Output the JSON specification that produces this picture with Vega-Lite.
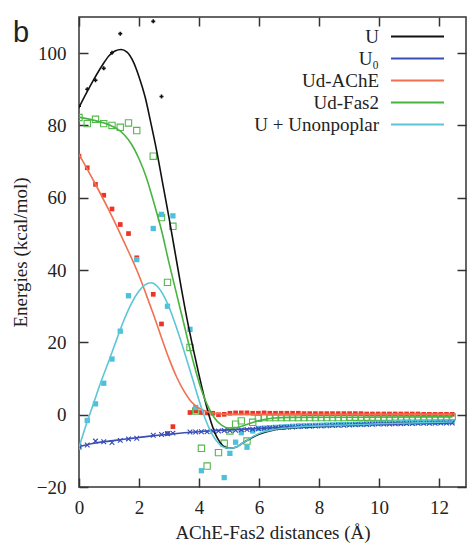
{
  "$schema": "https://vega.github.io/schema/vega-lite/v6.json",
  "width": 387,
  "height": 470,
  "autosize": {"type": "none"},
  "padding": {"left": 79, "top": 17, "right": 1, "bottom": 57},
  "background": "white",
  "title": {"text": "b", "anchor": "start", "frame": "group", "orient": "top", "font": "Liberation Sans", "fontSize": 29, "fontWeight": "normal", "color": "#222222", "dx": -66, "offset": -55, "baseline": "alphabetic"},
  "config": {
    "view": {"stroke": "#333333", "strokeWidth": 1.5},
    "axis": {"domain": false, "grid": false, "tickColor": "#333333", "tickWidth": 1.5, "tickSize": -9, "labelFont": "Liberation Serif", "labelFontSize": 19, "labelColor": "#222222", "labelFlush": false, "labelOverlap": false, "titleFont": "Liberation Serif", "titleFontSize": 19, "titleFontWeight": "normal", "titleColor": "#222222"}
  },
  "datasets": {
    "curves": [
      {"s": "U", "x": 0, "y": 85}, {"s": "U", "x": 0.25, "y": 89}, {"s": "U", "x": 0.5, "y": 92.8}, {"s": "U", "x": 0.75, "y": 96.3}, {"s": "U", "x": 1.0, "y": 99.3}, {"s": "U", "x": 1.2, "y": 100.6}, {"s": "U", "x": 1.4, "y": 101}, {"s": "U", "x": 1.6, "y": 100.3}, {"s": "U", "x": 1.8, "y": 97.8}, {"s": "U", "x": 2.0, "y": 93.5}, {"s": "U", "x": 2.2, "y": 88}, {"s": "U", "x": 2.4, "y": 80.5}, {"s": "U", "x": 2.6, "y": 72.5}, {"s": "U", "x": 2.8, "y": 63.5}, {"s": "U", "x": 3.0, "y": 54.5}, {"s": "U", "x": 3.2, "y": 45}, {"s": "U", "x": 3.4, "y": 35.5}, {"s": "U", "x": 3.6, "y": 26.5}, {"s": "U", "x": 3.8, "y": 18.5}, {"s": "U", "x": 4.0, "y": 11}, {"s": "U", "x": 4.2, "y": 4}, {"s": "U", "x": 4.4, "y": -2}, {"s": "U", "x": 4.6, "y": -6.3}, {"s": "U", "x": 4.8, "y": -8.6}, {"s": "U", "x": 5.0, "y": -9.3}, {"s": "U", "x": 5.2, "y": -9.1}, {"s": "U", "x": 5.5, "y": -7.6}, {"s": "U", "x": 6.0, "y": -5.4}, {"s": "U", "x": 6.5, "y": -4.2}, {"s": "U", "x": 7.0, "y": -3.7}, {"s": "U", "x": 8.0, "y": -3.2}, {"s": "U", "x": 9.0, "y": -2.8}, {"s": "U", "x": 10.0, "y": -2.5}, {"s": "U", "x": 11.0, "y": -2.3}, {"s": "U", "x": 12.45, "y": -2.1},
      {"s": "U₀", "x": 0, "y": -8.8}, {"s": "U₀", "x": 0.5, "y": -7.9}, {"s": "U₀", "x": 1.0, "y": -7.3}, {"s": "U₀", "x": 1.5, "y": -6.8}, {"s": "U₀", "x": 2.0, "y": -6.3}, {"s": "U₀", "x": 2.5, "y": -5.8}, {"s": "U₀", "x": 3.0, "y": -5.4}, {"s": "U₀", "x": 3.5, "y": -5.0}, {"s": "U₀", "x": 4.0, "y": -4.7}, {"s": "U₀", "x": 4.5, "y": -4.4}, {"s": "U₀", "x": 5.0, "y": -4.2}, {"s": "U₀", "x": 5.5, "y": -4.0}, {"s": "U₀", "x": 6.0, "y": -3.8}, {"s": "U₀", "x": 7.0, "y": -3.4}, {"s": "U₀", "x": 8.0, "y": -3.1}, {"s": "U₀", "x": 9.0, "y": -2.85}, {"s": "U₀", "x": 10.0, "y": -2.6}, {"s": "U₀", "x": 11.0, "y": -2.45}, {"s": "U₀", "x": 12.45, "y": -2.3},
      {"s": "Ud-AChE", "x": 0, "y": 72}, {"s": "Ud-AChE", "x": 0.5, "y": 64.5}, {"s": "Ud-AChE", "x": 1.0, "y": 56.5}, {"s": "Ud-AChE", "x": 1.5, "y": 47.8}, {"s": "Ud-AChE", "x": 2.0, "y": 38.5}, {"s": "Ud-AChE", "x": 2.25, "y": 33}, {"s": "Ud-AChE", "x": 2.5, "y": 27.3}, {"s": "Ud-AChE", "x": 2.75, "y": 21.3}, {"s": "Ud-AChE", "x": 3.0, "y": 15.5}, {"s": "Ud-AChE", "x": 3.25, "y": 10.5}, {"s": "Ud-AChE", "x": 3.5, "y": 6.5}, {"s": "Ud-AChE", "x": 3.75, "y": 3.5}, {"s": "Ud-AChE", "x": 4.0, "y": 1.8}, {"s": "Ud-AChE", "x": 4.25, "y": 0.9}, {"s": "Ud-AChE", "x": 4.5, "y": 0.4}, {"s": "Ud-AChE", "x": 5.0, "y": 0.1}, {"s": "Ud-AChE", "x": 12.45, "y": 0},
      {"s": "Ud-Fas2", "x": 0, "y": 82.3}, {"s": "Ud-Fas2", "x": 0.5, "y": 81.4}, {"s": "Ud-Fas2", "x": 1.0, "y": 80.2}, {"s": "Ud-Fas2", "x": 1.25, "y": 79.2}, {"s": "Ud-Fas2", "x": 1.5, "y": 77.5}, {"s": "Ud-Fas2", "x": 1.75, "y": 74.8}, {"s": "Ud-Fas2", "x": 2.0, "y": 70.8}, {"s": "Ud-Fas2", "x": 2.25, "y": 65.5}, {"s": "Ud-Fas2", "x": 2.5, "y": 58.5}, {"s": "Ud-Fas2", "x": 2.75, "y": 51}, {"s": "Ud-Fas2", "x": 3.0, "y": 42}, {"s": "Ud-Fas2", "x": 3.25, "y": 33.5}, {"s": "Ud-Fas2", "x": 3.5, "y": 25}, {"s": "Ud-Fas2", "x": 3.75, "y": 16.5}, {"s": "Ud-Fas2", "x": 4.0, "y": 9}, {"s": "Ud-Fas2", "x": 4.25, "y": 3.2}, {"s": "Ud-Fas2", "x": 4.5, "y": -0.7}, {"s": "Ud-Fas2", "x": 4.75, "y": -2.9}, {"s": "Ud-Fas2", "x": 5.0, "y": -3.7}, {"s": "Ud-Fas2", "x": 5.25, "y": -3.6}, {"s": "Ud-Fas2", "x": 5.5, "y": -3.0}, {"s": "Ud-Fas2", "x": 6.0, "y": -1.6}, {"s": "Ud-Fas2", "x": 6.5, "y": -0.9}, {"s": "Ud-Fas2", "x": 7.0, "y": -0.75}, {"s": "Ud-Fas2", "x": 9.0, "y": -0.7}, {"s": "Ud-Fas2", "x": 12.45, "y": -0.6},
      {"s": "U + Unonpoplar", "x": 0, "y": -9}, {"s": "U + Unonpoplar", "x": 0.25, "y": -2.5}, {"s": "U + Unonpoplar", "x": 0.5, "y": 3.5}, {"s": "U + Unonpoplar", "x": 0.75, "y": 9.5}, {"s": "U + Unonpoplar", "x": 1.0, "y": 15}, {"s": "U + Unonpoplar", "x": 1.25, "y": 20.7}, {"s": "U + Unonpoplar", "x": 1.5, "y": 26.2}, {"s": "U + Unonpoplar", "x": 1.75, "y": 30.8}, {"s": "U + Unonpoplar", "x": 2.0, "y": 34.2}, {"s": "U + Unonpoplar", "x": 2.2, "y": 35.9}, {"s": "U + Unonpoplar", "x": 2.4, "y": 36.5}, {"s": "U + Unonpoplar", "x": 2.6, "y": 35.6}, {"s": "U + Unonpoplar", "x": 2.8, "y": 33.3}, {"s": "U + Unonpoplar", "x": 3.0, "y": 29.8}, {"s": "U + Unonpoplar", "x": 3.2, "y": 25.3}, {"s": "U + Unonpoplar", "x": 3.4, "y": 20.3}, {"s": "U + Unonpoplar", "x": 3.6, "y": 15}, {"s": "U + Unonpoplar", "x": 3.8, "y": 9.5}, {"s": "U + Unonpoplar", "x": 4.0, "y": 4}, {"s": "U + Unonpoplar", "x": 4.2, "y": -1}, {"s": "U + Unonpoplar", "x": 4.4, "y": -4.8}, {"s": "U + Unonpoplar", "x": 4.6, "y": -7.4}, {"s": "U + Unonpoplar", "x": 4.8, "y": -8.9}, {"s": "U + Unonpoplar", "x": 5.0, "y": -9.3}, {"s": "U + Unonpoplar", "x": 5.2, "y": -9.1}, {"s": "U + Unonpoplar", "x": 5.5, "y": -7.6}, {"s": "U + Unonpoplar", "x": 6.0, "y": -5.2}, {"s": "U + Unonpoplar", "x": 6.5, "y": -4.1}, {"s": "U + Unonpoplar", "x": 7.0, "y": -3.6}, {"s": "U + Unonpoplar", "x": 8.0, "y": -3.1}, {"s": "U + Unonpoplar", "x": 9.0, "y": -2.8}, {"s": "U + Unonpoplar", "x": 10.0, "y": -2.5}, {"s": "U + Unonpoplar", "x": 11.0, "y": -2.3}, {"s": "U + Unonpoplar", "x": 12.45, "y": -2.0}
    ],
    "pts": [
      {"s": "U", "x": 0, "y": 85.3}, {"s": "U", "x": 0.275, "y": 90}, {"s": "U", "x": 0.55, "y": 92.5}, {"s": "U", "x": 0.825, "y": 95.8}, {"s": "U", "x": 1.1, "y": 100.1}, {"s": "U", "x": 1.375, "y": 105.4}, {"s": "U", "x": 2.475, "y": 108.8}, {"s": "U", "x": 2.75, "y": 88.0},
      {"s": "U0", "x": 0, "y": -8.7}, {"s": "U0", "x": 0.275, "y": -8.4}, {"s": "U0", "x": 0.55, "y": -7.3}, {"s": "U0", "x": 0.825, "y": -7.5}, {"s": "U0", "x": 1.1, "y": -7.7}, {"s": "U0", "x": 1.375, "y": -7.1}, {"s": "U0", "x": 1.65, "y": -6.7}, {"s": "U0", "x": 1.925, "y": -6.5}, {"s": "U0", "x": 2.475, "y": -5.7}, {"s": "U0", "x": 2.75, "y": -5.5}, {"s": "U0", "x": 2.95, "y": -5.3}, {"s": "U0", "x": 3.13, "y": -5.1},
      {"s": "U0", "x": 3.7, "y": -4.8}, {"s": "U0", "x": 3.89, "y": -4.8}, {"s": "U0", "x": 4.08, "y": -4.7}, {"s": "U0", "x": 4.27, "y": -4.7}, {"s": "U0", "x": 4.46, "y": -4.6}, {"s": "U0", "x": 4.65, "y": -4.5}, {"s": "U0", "x": 4.84, "y": -4.4}, {"s": "U0", "x": 5.03, "y": -4.4}, {"s": "U0", "x": 5.22, "y": -4.3}, {"s": "U0", "x": 5.41, "y": -4.2}, {"s": "U0", "x": 5.6, "y": -4.1}, {"s": "U0", "x": 5.79, "y": -4.0}, {"s": "U0", "x": 5.98, "y": -3.9}, {"s": "U0", "x": 6.17, "y": -3.8}, {"s": "U0", "x": 6.36, "y": -3.7}, {"s": "U0", "x": 6.55, "y": -3.6}, {"s": "U0", "x": 6.74, "y": -3.5}, {"s": "U0", "x": 6.93, "y": -3.45}, {"s": "U0", "x": 7.12, "y": -3.4}, {"s": "U0", "x": 7.31, "y": -3.3}, {"s": "U0", "x": 7.5, "y": -3.25}, {"s": "U0", "x": 7.69, "y": -3.2}, {"s": "U0", "x": 7.88, "y": -3.15}, {"s": "U0", "x": 8.07, "y": -3.1}, {"s": "U0", "x": 8.26, "y": -3.05}, {"s": "U0", "x": 8.45, "y": -3.0}, {"s": "U0", "x": 8.64, "y": -2.95}, {"s": "U0", "x": 8.83, "y": -2.9}, {"s": "U0", "x": 9.02, "y": -2.85}, {"s": "U0", "x": 9.21, "y": -2.8}, {"s": "U0", "x": 9.4, "y": -2.75}, {"s": "U0", "x": 9.59, "y": -2.7}, {"s": "U0", "x": 9.78, "y": -2.65}, {"s": "U0", "x": 9.97, "y": -2.6}, {"s": "U0", "x": 10.16, "y": -2.6}, {"s": "U0", "x": 10.35, "y": -2.55}, {"s": "U0", "x": 10.54, "y": -2.5}, {"s": "U0", "x": 10.73, "y": -2.5}, {"s": "U0", "x": 10.92, "y": -2.45}, {"s": "U0", "x": 11.11, "y": -2.45}, {"s": "U0", "x": 11.3, "y": -2.4}, {"s": "U0", "x": 11.49, "y": -2.4}, {"s": "U0", "x": 11.68, "y": -2.35}, {"s": "U0", "x": 11.87, "y": -2.35}, {"s": "U0", "x": 12.06, "y": -2.3}, {"s": "U0", "x": 12.25, "y": -2.3}, {"s": "U0", "x": 12.44, "y": -2.3},
      {"s": "R", "x": 0, "y": 71.5}, {"s": "R", "x": 0.275, "y": 68.3}, {"s": "R", "x": 0.55, "y": 63.7}, {"s": "R", "x": 0.825, "y": 60.7}, {"s": "R", "x": 1.1, "y": 56.9}, {"s": "R", "x": 1.375, "y": 52.6}, {"s": "R", "x": 1.65, "y": 50.1}, {"s": "R", "x": 1.925, "y": 43.4}, {"s": "R", "x": 2.475, "y": 33.3}, {"s": "R", "x": 2.75, "y": 25.1}, {"s": "R", "x": 2.95, "y": -5.2}, {"s": "R", "x": 3.13, "y": -3.3},
      {"s": "R", "x": 3.7, "y": 0.6}, {"s": "R", "x": 3.89, "y": 1.0}, {"s": "R", "x": 4.08, "y": 0.6}, {"s": "R", "x": 4.27, "y": 0.5}, {"s": "R", "x": 4.46, "y": 0.4}, {"s": "R", "x": 4.65, "y": 0.0}, {"s": "R", "x": 4.84, "y": 0.1}, {"s": "R", "x": 5.03, "y": 0.4}, {"s": "R", "x": 5.22, "y": 0.5}, {"s": "R", "x": 5.41, "y": 0.5}, {"s": "R", "x": 5.6, "y": 0.5}, {"s": "R", "x": 5.79, "y": 0.4}, {"s": "R", "x": 5.98, "y": 0.4}, {"s": "R", "x": 6.17, "y": 0.5}, {"s": "R", "x": 6.36, "y": 0.4}, {"s": "R", "x": 6.55, "y": 0.4}, {"s": "R", "x": 6.74, "y": 0.4}, {"s": "R", "x": 6.93, "y": 0.4}, {"s": "R", "x": 7.12, "y": 0.4}, {"s": "R", "x": 7.31, "y": 0.4}, {"s": "R", "x": 7.5, "y": 0.3}, {"s": "R", "x": 7.69, "y": 0.3}, {"s": "R", "x": 7.88, "y": 0.3}, {"s": "R", "x": 8.07, "y": 0.3}, {"s": "R", "x": 8.26, "y": 0.3}, {"s": "R", "x": 8.45, "y": 0.3}, {"s": "R", "x": 8.64, "y": 0.3}, {"s": "R", "x": 8.83, "y": 0.3}, {"s": "R", "x": 9.02, "y": 0.3}, {"s": "R", "x": 9.21, "y": 0.3}, {"s": "R", "x": 9.4, "y": 0.3}, {"s": "R", "x": 9.59, "y": 0.2}, {"s": "R", "x": 9.78, "y": 0.2}, {"s": "R", "x": 9.97, "y": 0.2}, {"s": "R", "x": 10.16, "y": 0.2}, {"s": "R", "x": 10.35, "y": 0.2}, {"s": "R", "x": 10.54, "y": 0.2}, {"s": "R", "x": 10.73, "y": 0.2}, {"s": "R", "x": 10.92, "y": 0.2}, {"s": "R", "x": 11.11, "y": 0.2}, {"s": "R", "x": 11.3, "y": 0.2}, {"s": "R", "x": 11.49, "y": 0.1}, {"s": "R", "x": 11.68, "y": 0.1}, {"s": "R", "x": 11.87, "y": 0.1}, {"s": "R", "x": 12.06, "y": 0.1}, {"s": "R", "x": 12.25, "y": 0.1}, {"s": "R", "x": 12.44, "y": 0.1},
      {"s": "G", "x": 0, "y": 82.2}, {"s": "G", "x": 0.275, "y": 80.5}, {"s": "G", "x": 0.55, "y": 81.7}, {"s": "G", "x": 0.825, "y": 80.5}, {"s": "G", "x": 1.1, "y": 80.0}, {"s": "G", "x": 1.375, "y": 79.5}, {"s": "G", "x": 1.65, "y": 80.7}, {"s": "G", "x": 1.925, "y": 78.6}, {"s": "G", "x": 2.475, "y": 71.5}, {"s": "G", "x": 2.75, "y": 54.5}, {"s": "G", "x": 2.95, "y": 36.6}, {"s": "G", "x": 3.13, "y": 52.1},
      {"s": "G", "x": 3.7, "y": 18.6}, {"s": "G", "x": 3.89, "y": 1.0}, {"s": "G", "x": 4.08, "y": -9.3}, {"s": "G", "x": 4.27, "y": -14.2}, {"s": "G", "x": 4.65, "y": -10.5}, {"s": "G", "x": 4.84, "y": -7.9}, {"s": "G", "x": 5.03, "y": -4.5}, {"s": "G", "x": 5.22, "y": -2.6}, {"s": "G", "x": 5.41, "y": -1.7}, {"s": "G", "x": 5.6, "y": -7.3}, {"s": "G", "x": 5.79, "y": -2.1}, {"s": "G", "x": 5.98, "y": -1.0}, {"s": "G", "x": 6.17, "y": -0.8}, {"s": "G", "x": 6.36, "y": -0.8}, {"s": "G", "x": 6.55, "y": -0.8}, {"s": "G", "x": 6.74, "y": -0.8}, {"s": "G", "x": 6.93, "y": -0.8}, {"s": "G", "x": 7.12, "y": -0.8}, {"s": "G", "x": 7.31, "y": -0.8}, {"s": "G", "x": 7.5, "y": -0.8}, {"s": "G", "x": 7.69, "y": -0.8}, {"s": "G", "x": 7.88, "y": -0.8}, {"s": "G", "x": 8.07, "y": -0.8}, {"s": "G", "x": 8.26, "y": -0.8}, {"s": "G", "x": 8.45, "y": -0.8}, {"s": "G", "x": 8.64, "y": -0.8}, {"s": "G", "x": 8.83, "y": -0.8}, {"s": "G", "x": 9.02, "y": -0.7}, {"s": "G", "x": 9.21, "y": -0.7}, {"s": "G", "x": 9.4, "y": -0.7}, {"s": "G", "x": 9.59, "y": -0.7}, {"s": "G", "x": 9.78, "y": -0.7}, {"s": "G", "x": 9.97, "y": -0.7}, {"s": "G", "x": 10.16, "y": -0.7}, {"s": "G", "x": 10.35, "y": -0.7}, {"s": "G", "x": 10.54, "y": -0.6}, {"s": "G", "x": 10.73, "y": -0.6}, {"s": "G", "x": 10.92, "y": -0.6}, {"s": "G", "x": 11.11, "y": -0.6}, {"s": "G", "x": 11.3, "y": -0.6}, {"s": "G", "x": 11.49, "y": -0.6}, {"s": "G", "x": 11.68, "y": -0.6}, {"s": "G", "x": 11.87, "y": -0.6}, {"s": "G", "x": 12.06, "y": -0.6}, {"s": "G", "x": 12.25, "y": -0.6}, {"s": "G", "x": 12.44, "y": -0.6},
      {"s": "C", "x": 0, "y": -9.0}, {"s": "C", "x": 0.275, "y": -1.6}, {"s": "C", "x": 0.55, "y": 3.0}, {"s": "C", "x": 0.825, "y": 8.7}, {"s": "C", "x": 1.1, "y": 15.4}, {"s": "C", "x": 1.375, "y": 23.1}, {"s": "C", "x": 1.65, "y": 32.9}, {"s": "C", "x": 1.925, "y": 42.9}, {"s": "C", "x": 2.475, "y": 51.5}, {"s": "C", "x": 2.75, "y": 55.4}, {"s": "C", "x": 2.95, "y": 30.0}, {"s": "C", "x": 3.13, "y": 55.0},
      {"s": "C", "x": 3.7, "y": 23.6}, {"s": "C", "x": 3.89, "y": 2.0}, {"s": "C", "x": 4.08, "y": -15.5}, {"s": "C", "x": 4.84, "y": -17.4}, {"s": "C", "x": 5.03, "y": -10.7}, {"s": "C", "x": 5.22, "y": -7.6}, {"s": "C", "x": 5.41, "y": -5.0}, {"s": "C", "x": 5.6, "y": -9.0}, {"s": "C", "x": 5.79, "y": -4.5}, {"s": "C", "x": 5.98, "y": -3.8}, {"s": "C", "x": 6.17, "y": -3.7}, {"s": "C", "x": 6.36, "y": -3.6}, {"s": "C", "x": 6.55, "y": -3.5}, {"s": "C", "x": 6.74, "y": -3.4}, {"s": "C", "x": 6.93, "y": -3.3}, {"s": "C", "x": 7.12, "y": -3.2}, {"s": "C", "x": 7.31, "y": -3.1}, {"s": "C", "x": 7.5, "y": -3.05}, {"s": "C", "x": 7.69, "y": -3.0}, {"s": "C", "x": 7.88, "y": -2.95}, {"s": "C", "x": 8.07, "y": -2.9}, {"s": "C", "x": 8.26, "y": -2.85}, {"s": "C", "x": 8.45, "y": -2.8}, {"s": "C", "x": 8.64, "y": -2.75}, {"s": "C", "x": 8.83, "y": -2.7}, {"s": "C", "x": 9.02, "y": -2.65}, {"s": "C", "x": 9.21, "y": -2.6}, {"s": "C", "x": 9.4, "y": -2.55}, {"s": "C", "x": 9.59, "y": -2.5}, {"s": "C", "x": 9.78, "y": -2.45}, {"s": "C", "x": 9.97, "y": -2.4}, {"s": "C", "x": 10.16, "y": -2.35}, {"s": "C", "x": 10.35, "y": -2.3}, {"s": "C", "x": 10.54, "y": -2.3}, {"s": "C", "x": 10.73, "y": -2.25}, {"s": "C", "x": 10.92, "y": -2.2}, {"s": "C", "x": 11.11, "y": -2.2}, {"s": "C", "x": 11.3, "y": -2.15}, {"s": "C", "x": 11.49, "y": -2.1}, {"s": "C", "x": 11.68, "y": -2.1}, {"s": "C", "x": 11.87, "y": -2.05}, {"s": "C", "x": 12.06, "y": -2.0}, {"s": "C", "x": 12.25, "y": -2.0}, {"s": "C", "x": 12.44, "y": -1.9}
    ]
  },
  "layer": [
    {
      "data": {"name": "pts"},
      "transform": [{"filter": "datum.s === 'R'"}],
      "mark": {"type": "point", "shape": "square", "filled": true, "size": 22, "color": "#ec3326", "opacity": 1, "clip": true},
      "encoding": {
        "x": {"field": "x", "type": "quantitative", "scale": {"domain": [0, 12.9], "nice": false, "zero": false}, "axis": {"orient": "top", "labels": false, "title": null, "values": [0, 2, 4, 6, 8, 10, 12]}},
        "y": {"field": "y", "type": "quantitative", "scale": {"domain": [-20, 110], "nice": false, "zero": false}, "axis": {"orient": "right", "labels": false, "title": null, "values": [-20, 0, 20, 40, 60, 80, 100]}}
      }
    },
    {
      "data": {"name": "pts"},
      "transform": [{"filter": "datum.s === 'G'"}],
      "mark": {"type": "point", "shape": "square", "filled": false, "size": 40, "stroke": "#55b84c", "strokeWidth": 1.1, "opacity": 1, "clip": true},
      "encoding": {
        "x": {"field": "x", "type": "quantitative", "axis": null},
        "y": {"field": "y", "type": "quantitative", "axis": null}
      }
    },
    {
      "data": {"name": "pts"},
      "transform": [{"filter": "datum.s === 'C'"}],
      "mark": {"type": "point", "shape": "square", "filled": true, "size": 28, "color": "#4dc1dc", "opacity": 1, "clip": true},
      "encoding": {
        "x": {"field": "x", "type": "quantitative", "axis": null},
        "y": {"field": "y", "type": "quantitative", "axis": null}
      }
    },
    {
      "data": {"name": "pts"},
      "transform": [{"filter": "datum.s === 'U0'"}],
      "mark": {"type": "point", "shape": "M-1,-1L1,1M-1,1L1,-1", "filled": false, "size": 22, "stroke": "#3346b8", "strokeWidth": 1.1, "opacity": 1, "clip": true},
      "encoding": {
        "x": {"field": "x", "type": "quantitative", "axis": null},
        "y": {"field": "y", "type": "quantitative", "axis": null}
      }
    },
    {
      "data": {"name": "pts"},
      "transform": [{"filter": "datum.s === 'U'"}],
      "mark": {"type": "point", "shape": "cross", "filled": true, "size": 16, "color": "#111111", "opacity": 1, "clip": true},
      "encoding": {
        "x": {"field": "x", "type": "quantitative", "axis": null},
        "y": {"field": "y", "type": "quantitative", "axis": null}
      }
    },
    {
      "data": {"name": "curves"},
      "mark": {"type": "line", "interpolate": "monotone", "strokeWidth": 1.6, "clip": true},
      "encoding": {
        "x": {"field": "x", "type": "quantitative", "axis": {"orient": "bottom", "values": [0, 2, 4, 6, 8, 10, 12], "title": "AChE-Fas2 distances (Å)", "labelPadding": 20, "titlePadding": 6}},
        "y": {"field": "y", "type": "quantitative", "axis": {"orient": "left", "values": [-20, 0, 20, 40, 60, 80, 100], "title": "Energies (kcal/mol)", "labelPadding": 22, "titlePadding": 6}},
        "color": {
          "field": "s", "type": "nominal",
          "scale": {"domain": ["U", "U₀", "Ud-AChE", "Ud-Fas2", "U + Unonpoplar"], "range": ["#111111", "#3a4fb6", "#f2704f", "#48b440", "#5cc6d8"]},
          "legend": {"title": null, "orient": "none", "legendX": 329, "legendY": 10, "symbolType": "M-5.3,0H5.3", "symbolSize": 100, "symbolStrokeWidth": 2, "symbolFillColor": "transparent", "labelAlign": "right", "labelOffset": -48, "labelFont": "Liberation Serif", "labelFontSize": 19, "labelColor": "#222222", "labelLimit": 300, "rowPadding": 2, "padding": 0}
        },
        "order": {"field": "s", "type": "nominal"}
      }
    }
  ],
  "resolve": {"axis": {"x": "independent", "y": "independent"}}
}
